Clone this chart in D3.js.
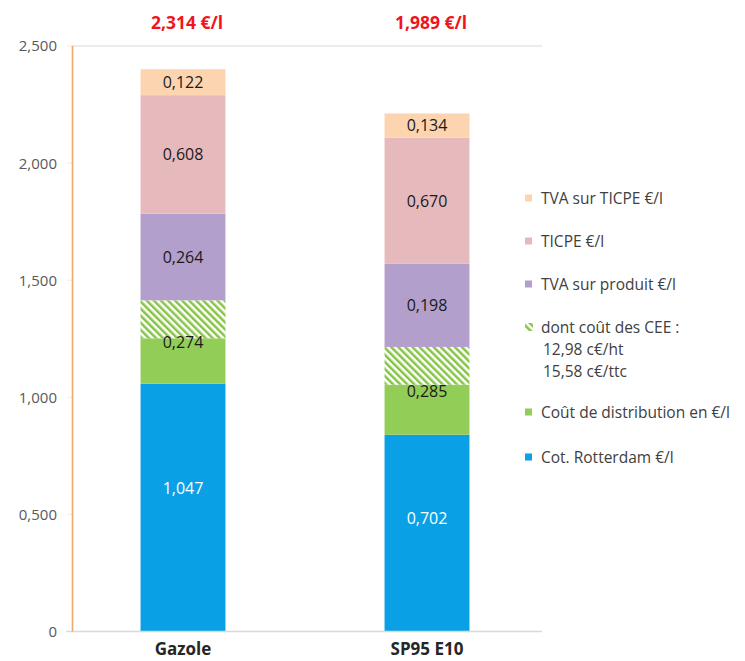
<!DOCTYPE html>
<html>
<head>
<meta charset="utf-8">
<title>Prix carburants</title>
<script src="https://cdn.jsdelivr.net/npm/d3@7"></script>
<style>
  body { margin:0; background:#fff; }
  text { font-family: "Open Sans", "Noto Sans", sans-serif; }
</style>
</head>
<body>
<script>
// categories and totals
var categories = ["Gazole", "SP95 E10"];
var totalLabels = ["2,314 €/l", "1,989 €/l"];

// segment heights (axis units)
var rotterdam    = [1.058, 0.840];
var distribution = [0.194, 0.214];
var cee          = [0.162, 0.161];
var tvaProduit   = [0.370, 0.355];
var ticpe        = [0.506, 0.538];
var tvaTicpe     = [0.111, 0.104];

// printed values in the bars
var rotterdamLbl    = ["1,047", "0,702"];
var distributionLbl = ["0,274", "0,285"];
var tvaProduitLbl   = ["0,264", "0,198"];
var ticpeLbl        = ["0,608", "0,670"];
var tvaTicpeLbl     = ["0,122", "0,134"];

var yTicks = [0, 0.5, 1, 1.5, 2, 2.5];

var legendItems = [
  {key:"tvaTicpe", text:["TVA sur TICPE €/l"]},
  {key:"ticpe", text:["TICPE €/l"]},
  {key:"tvaProduit", text:["TVA sur produit €/l"]},
  {key:"cee", text:["dont coût des CEE :", "12,98 c€/ht", "15,58 c€/ttc"]},
  {key:"distribution", text:["Coût de distribution en €/l"]},
  {key:"rotterdam", text:["Cot. Rotterdam €/l"]}
];
var legendY = [198, 241, 284, 327, 412, 457];

var colors = {
  rotterdam:"#0aa0e6",
  distribution:"#92cd58",
  cee:"url(#hatch)",
  tvaProduit:"#b39fcc",
  ticpe:"#e6b9bc",
  tvaTicpe:"#fdd4b0"
};

var width = 745, height = 661;
var svg = d3.select("body").append("svg")
  .attr("width", width)
  .attr("height", height);

var defs = svg.append("defs");
var pat = defs.append("pattern")
  .attr("id", "hatch")
  .attr("patternUnits", "userSpaceOnUse")
  .attr("width", 5).attr("height", 5)
  .attr("patternTransform", "rotate(-45)");
pat.append("rect").attr("width", 5).attr("height", 5).attr("fill", "#fff");
pat.append("rect").attr("width", 2.5).attr("height", 5).attr("fill", "#86c446");

var rows = categories.map(function(c, i){
  return {cat:c, rotterdam:rotterdam[i], distribution:distribution[i], cee:cee[i],
    tvaProduit:tvaProduit[i], ticpe:ticpe[i], tvaTicpe:tvaTicpe[i]};
});
var keys = ["rotterdam", "distribution", "cee", "tvaProduit", "ticpe", "tvaTicpe"];
var series = d3.stack().keys(keys)(rows);

var x = d3.scaleBand().domain(categories).range([61, 549])
  .paddingInner(0.652).paddingOuter(0.326);
var y = d3.scaleLinear().domain([0, 2.5]).range([631.5, 46]);

// gridlines (only top and baseline are visible)
svg.append("line")
  .attr("x1", 72).attr("x2", 542)
  .attr("y1", y(2.5)).attr("y2", y(2.5))
  .attr("stroke", "#d9d9d9").attr("stroke-width", 1.2);

// y axis labels
var yAxis = svg.append("g");
yAxis.selectAll("text").data(yTicks).enter().append("text")
  .attr("x", 57)
  .attr("y", function(d){ return y(d); })
  .attr("dy", "0.36em")
  .attr("text-anchor", "end")
  .attr("font-size", 15)
  .attr("fill", "#595959")
  .text(function(d){ return d === 0 ? "0" : d.toFixed(3).replace(".", ","); });
yAxis.selectAll("line").data(yTicks).enter().append("line")
  .attr("x1", 67).attr("x2", 72)
  .attr("y1", function(d){ return y(d); })
  .attr("y2", function(d){ return y(d); })
  .attr("stroke", "#ececec");

// bars
var layers = svg.append("g").selectAll("g").data(series).enter().append("g")
  .attr("fill", function(d){ return colors[d.key]; });
layers.selectAll("rect").data(function(d){ return d; }).enter().append("rect")
  .attr("x", function(d){ return x(d.data.cat); })
  .attr("width", x.bandwidth())
  .attr("y", function(d){ return y(d[1]); })
  .attr("height", function(d){ return y(d[0]) - y(d[1]); });

// baseline and orange axis on top
svg.append("line")
  .attr("x1", 66).attr("x2", 542)
  .attr("y1", y(0)).attr("y2", y(0))
  .attr("stroke", "#d9d9d9").attr("stroke-width", 1.5);
svg.append("line")
  .attr("x1", 72.5).attr("x2", 72.5)
  .attr("y1", y(2.5)).attr("y2", y(0))
  .attr("stroke", "#f0a868").attr("stroke-width", 1.6);

// labels inside bars
function seg(k){ return series[keys.indexOf(k)]; }
var labelDefs = [
  {s:seg("rotterdam"), lbl:rotterdamLbl, frac:0.577, color:"#fff"},
  {s:null, lbl:distributionLbl, color:"#1a1a1a"},
  {s:seg("tvaProduit"), lbl:tvaProduitLbl, frac:0.5, color:"#1a1a1a"},
  {s:seg("ticpe"), lbl:ticpeLbl, frac:0.5, color:"#1a1a1a"},
  {s:seg("tvaTicpe"), lbl:tvaTicpeLbl, frac:0.5, color:"#1a1a1a"}
];
var lblG = svg.append("g");
labelDefs.forEach(function(ld){
  categories.forEach(function(c, i){
    var v;
    if (ld.s) {
      v = ld.s[i][0] + (ld.s[i][1] - ld.s[i][0]) * ld.frac;
    } else {
      // distribution label sits in the middle of green + hatched block
      v = (seg("distribution")[i][0] + seg("cee")[i][1]) / 2;
    }
    lblG.append("text")
      .attr("x", x(c) + x.bandwidth() / 2)
      .attr("y", y(v))
      .attr("dy", "0.36em")
      .attr("text-anchor", "middle")
      .attr("font-size", 16)
      .attr("fill", ld.color)
      .text(ld.lbl[i]);
  });
});

// totals on top
svg.append("g").selectAll("text").data(categories).enter().append("text")
  .attr("x", function(d){ return x(d) + x.bandwidth() / 2 + 4; })
  .attr("y", 23)
  .attr("dy", "0.36em")
  .attr("text-anchor", "middle")
  .attr("font-size", 17.5)
  .attr("font-weight", "bold")
  .attr("fill", "#f0141e")
  .text(function(d, i){ return totalLabels[i]; });

// category labels
svg.append("g").selectAll("text").data(categories).enter().append("text")
  .attr("x", function(d){ return x(d) + x.bandwidth() / 2; })
  .attr("y", 649)
  .attr("dy", "0.36em")
  .attr("text-anchor", "middle")
  .attr("font-size", 17)
  .attr("font-weight", "bold")
  .attr("fill", "#262626")
  .text(function(d){ return d; });

// legend
var leg = svg.append("g");
legendItems.forEach(function(it, i){
  var ly = legendY[i];
  if (it.key === "cee") {
    leg.append("rect")
      .attr("x", 525).attr("y", ly - 4).attr("width", 8).attr("height", 8)
      .attr("fill", "url(#hatch)");
  } else {
    leg.append("rect")
      .attr("x", 525).attr("y", ly - 3.5).attr("width", 7).attr("height", 7)
      .attr("fill", colors[it.key]);
  }
  it.text.forEach(function(t, j){
    leg.append("text")
      .attr("x", j === 0 ? 541 : 543)
      .attr("y", ly + j * 22)
      .attr("dy", "0.36em")
      .attr("font-size", 15.5)
      .attr("fill", "#404040")
      .text(t);
  });
});
</script>
</body>
</html>
